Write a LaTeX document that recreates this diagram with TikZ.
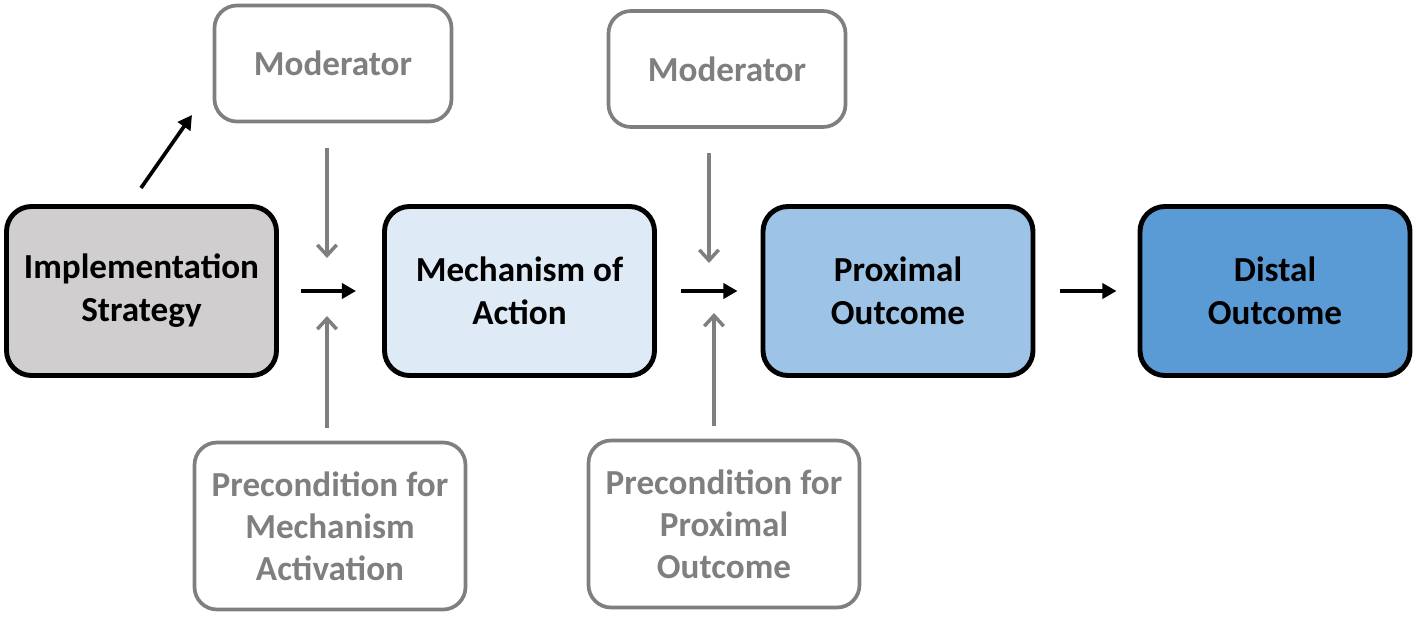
\documentclass[tikz,border=0pt]{standalone}
\usepackage{fontspec}
\setmainfont{Carlito}
\usetikzlibrary{arrows.meta}
\definecolor{stratfill}{HTML}{D0CECE}
\definecolor{mechfill}{HTML}{DEEBF7}
\definecolor{proxfill}{HTML}{9DC3E6}
\definecolor{distfill}{HTML}{5B9BD5}
\definecolor{modgray}{HTML}{7F7F7F}
\tikzset{
  mainbox/.style={draw=black, line width=2.8pt, rounded corners=0.5cm,
    minimum width=5.4cm, minimum height=3.38cm, align=center,
    font=\fontsize{20}{24.5}\selectfont\bfseries},
  sidebox/.style={draw=modgray, line width=2.1pt, rounded corners=0.45cm,
    align=center, text=modgray,
    font=\fontsize{20}{24}\selectfont\bfseries},
  flow/.style={draw=black, line width=2.1pt, -{Triangle[length=8pt,width=8.5pt]}},
  modflow/.style={draw=modgray, line width=2pt, -{Straight Barb[length=6pt,width=11pt]}}
}
\begin{document}
\begin{tikzpicture}
  \useasboundingbox (0,0) rectangle (28.36,12.34);
  % Main chain
  \node[mainbox, fill=stratfill] (strat) at (2.83,6.52) {Implementation\\Strategy};
  \node[mainbox, fill=mechfill] (mech) at (10.39,6.52) {Mechanism of\\Action};
  \node[mainbox, fill=proxfill] (prox) at (17.96,6.52) {Proximal\\Outcome};
  \node[mainbox, fill=distfill] (dist) at (25.5,6.52) {Distal\\Outcome};
  % Moderators and preconditions
  \node[sidebox, minimum width=4.74cm, minimum height=2.32cm] (mod1) at (6.66,11.07) {Moderator};
  \node[sidebox, minimum width=4.74cm, minimum height=2.32cm] (mod2) at (14.54,10.96) {Moderator};
  \node[sidebox, minimum width=5.42cm, minimum height=3.34cm] (pre1) at (6.6,1.82) {Precondition for\\Mechanism\\Activation};
  \node[sidebox, minimum width=5.42cm, minimum height=3.34cm] (pre2) at (14.48,1.86) {Precondition for\\Proximal\\Outcome};
  % Free arrow ends
  \coordinate (m1tip) at (6.54,7.18);
  \coordinate (p1tip) at (6.54,6.02);
  \coordinate (m2tip) at (14.18,7.08);
  \coordinate (p2tip) at (14.28,6.08);
  \coordinate (diagstart) at (2.82,8.58);
  \coordinate (diagtip) at (3.84,10.04);
  % Main arrows
  \draw[flow, shorten <=0.44cm, shorten >=0.52cm] (strat) -- (mech);
  \draw[flow, shorten <=0.48cm, shorten >=0.46cm] (mech) -- (prox);
  \draw[flow, shorten <=0.5cm, shorten >=0.42cm] (prox) -- (dist);
  \draw[flow] (diagstart) -- (diagtip);
  % Gray arrows
  \draw[modflow, shorten <=0.5cm] (mod1.south -| m1tip) -- (m1tip);
  \draw[modflow, shorten <=0.26cm] (pre1.north -| p1tip) -- (p1tip);
  \draw[modflow, shorten <=0.48cm] (mod2.south -| m2tip) -- (m2tip);
  \draw[modflow, shorten <=0.26cm] (pre2.north -| p2tip) -- (p2tip);
\end{tikzpicture}
\end{document}
